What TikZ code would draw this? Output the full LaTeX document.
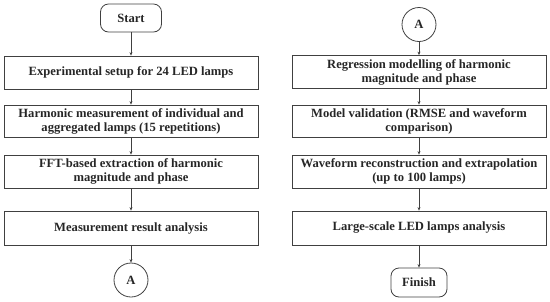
\documentclass[tikz,border=0pt]{standalone}
\usepackage{fontspec}
\setmainfont{Liberation Serif}
\usetikzlibrary{arrows.meta}
\begin{document}
\begin{tikzpicture}[x=1pt,y=-1pt,
  every node/.style={font=\fontsize{12.6}{14}\selectfont\bfseries, text=black!85, draw=black!75, line width=0.8pt, align=center, inner sep=0pt},
  stepbox/.style={rectangle, minimum width=254pt, minimum height=33pt},
  term/.style={rectangle, rounded corners=8pt, minimum height=28pt},
  conn/.style={circle, minimum size=34pt},
  arr/.style={draw=black!75, line width=0.8pt, -{Stealth[length=3.5pt,width=3pt]}}
]
\useasboundingbox (0,0) rectangle (550,301);
% left column
\node[term, minimum width=61pt] (start) at (131,18) {Start};
\node[stepbox] (b1) at (131,72.5) {Experimental setup for 24 LED lamps};
\node[stepbox, minimum height=32pt] (b2) at (131,121) {Harmonic measurement of individual and\\aggregated lamps (15 repetitions)};
\node[stepbox] (b3) at (131,171.5) {FFT-based extraction of harmonic\\magnitude and phase};
\node[stepbox, minimum height=34pt] (b4) at (131,228) {Measurement result analysis};
\node[conn] (a1) at (131,280) {A};
% right column
\node[conn] (a2) at (419,24.5) {A};
\node[stepbox] (b5) at (419,72) {Regression modelling of harmonic\\magnitude and phase};
\node[stepbox, minimum height=32pt] (b6) at (419,121) {Model validation (RMSE and waveform\\comparison)};
\node[stepbox] (b7) at (419,171.5) {Waveform reconstruction and extrapolation\\(up to 100 lamps)};
\node[stepbox, minimum height=34pt] (b8) at (419,228) {Large-scale LED lamps analysis};
\node[term, minimum width=56pt, minimum height=29pt] (finish) at (419,282.5) {Finish};
% connectors
\draw[arr] (start) -- (b1);
\draw[arr] (b1) -- (b2);
\draw[arr] (b2) -- (b3);
\draw[arr] (b3) -- (b4);
\draw[arr] (b4) -- (a1);
\draw[arr] (a2) -- (b5);
\draw[arr] (b5) -- (b6);
\draw[arr] (b6) -- (b7);
\draw[arr] (b7) -- (b8);
\draw[arr] (b8) -- (finish);
\end{tikzpicture}
\end{document}
